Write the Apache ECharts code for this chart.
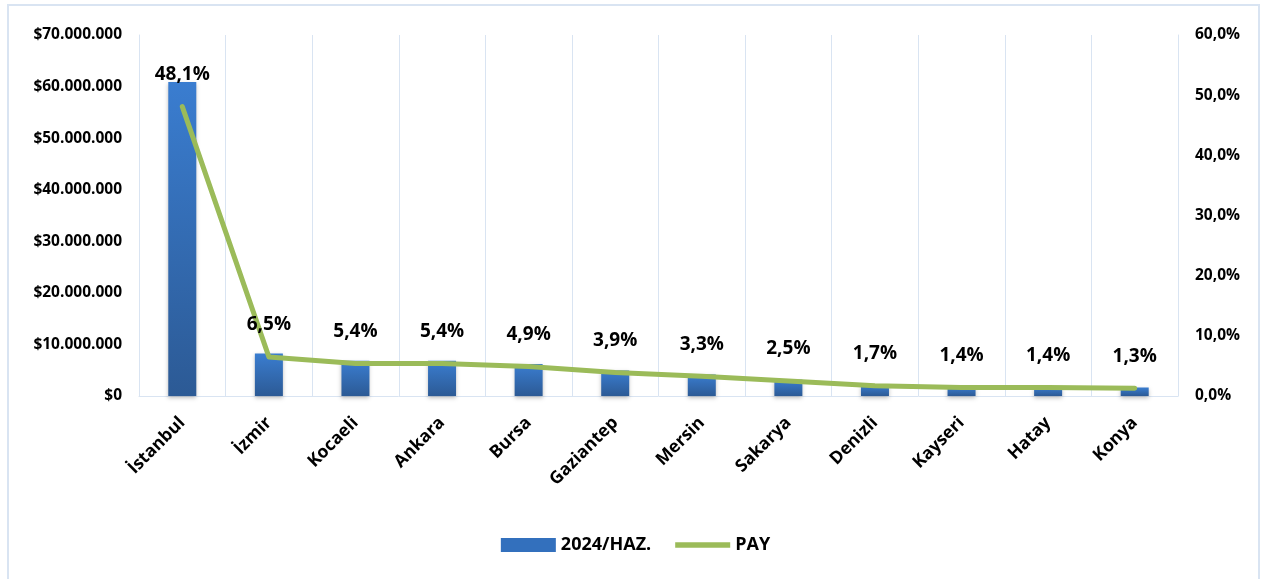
<!DOCTYPE html>
<html>
<head>
<meta charset="utf-8">
<script src="https://cdn.jsdelivr.net/npm/echarts@6/dist/echarts.min.js"></script>
<style>
  html, body { margin: 0; padding: 0; background: #fff; }
  #chart { width: 1271px; height: 579px; }
</style>
</head>
<body>
<div id="chart"></div>
<script>
const cities = ['İstanbul', 'İzmir', 'Kocaeli', 'Ankara', 'Bursa', 'Gaziantep', 'Mersin', 'Sakarya', 'Denizli', 'Kayseri', 'Hatay', 'Konya'];
// 2024/HAZ. values in dollars
const exports2024 = [60900000, 8250000, 6850000, 6850000, 6200000, 4950000, 4180000, 3170000, 2150000, 1780000, 1770000, 1650000];
// share in percent
const share = [48.1, 6.5, 5.4, 5.4, 4.9, 3.9, 3.3, 2.5, 1.7, 1.4, 1.4, 1.3];

const fontFamily = '"Open Sans", "Noto Sans", sans-serif';
const gridColor = '#d9e4f2';

function dotThousands(v) {
  return '$' + String(v).replace(/\B(?=(\d{3})+(?!\d))/g, '.');
}

const chart = echarts.init(document.getElementById('chart'));

chart.setOption({
  animation: false,
  textStyle: { fontFamily: fontFamily },
  graphic: [{
    type: 'rect',
    shape: { x: 8, y: 5, width: 1251, height: 600 },
    style: { fill: 'none', stroke: gridColor, lineWidth: 2 },
    silent: true
  }],
  grid: { left: 139, right: 93, top: 35, bottom: 183 },
  legend: {
    bottom: 20,
    left: 'center',
    itemGap: 24,
    textStyle: { fontSize: 18, fontWeight: 'bold', color: '#000', fontFamily: fontFamily },
    data: [
      { name: '2024/HAZ.', icon: 'rect', itemStyle: { color: '#3370bd' } },
      { name: 'PAY', icon: 'path://M0,0 L60,0 L60,6 L0,6 Z', itemStyle: { color: '#9bbb59' } }
    ],
    itemWidth: 55,
    itemHeight: 14
  },
  xAxis: {
    type: 'category',
    data: cities,
    axisLine: { lineStyle: { color: gridColor } },
    axisTick: { show: false },
    splitLine: { show: true, lineStyle: { color: gridColor } },
    axisLabel: {
      rotate: 45,
      margin: 24,
      interval: 0,
      color: '#000',
      fontSize: 17.5,
      fontWeight: 'bold'
    }
  },
  yAxis: [
    {
      type: 'value',
      min: 0,
      max: 70000000,
      interval: 10000000,
      axisLine: { show: true, lineStyle: { color: gridColor } },
      splitLine: { show: false },
      axisLabel: {
        color: '#000',
        fontSize: 15.5,
        fontWeight: 'bold',
        margin: 17,
        formatter: dotThousands
      }
    },
    {
      type: 'value',
      min: 0,
      max: 60,
      interval: 10,
      axisLine: { show: true, lineStyle: { color: gridColor } },
      splitLine: { show: false },
      axisLabel: {
        color: '#000',
        fontSize: 15.5,
        fontWeight: 'bold',
        margin: 17,
        formatter: v => v.toFixed(1).replace('.', ',') + '%'
      }
    }
  ],
  series: [
    {
      name: '2024/HAZ.',
      type: 'bar',
      data: exports2024,
      barWidth: 28,
      itemStyle: {
        color: new echarts.graphic.LinearGradient(0, 0, 0, 1, [
          { offset: 0, color: '#3a7dd0' },
          { offset: 1, color: '#2c5a95' }
        ]),
        shadowColor: 'rgba(0,0,0,0.25)',
        shadowBlur: 4,
        shadowOffsetY: 2
      }
    },
    {
      name: 'PAY',
      type: 'line',
      yAxisIndex: 1,
      data: share,
      showSymbol: true,
      symbol: 'circle',
      symbolSize: 1,
      lineStyle: { color: '#9bbb59', width: 5, cap: 'round', join: 'round' },
      itemStyle: { color: '#9bbb59' },
      label: {
        show: true,
        position: 'top',
        distance: 22,
        color: '#000',
        fontSize: 19,
        fontWeight: 'bold',
        formatter: p => p.value.toFixed(1).replace('.', ',') + '%'
      }
    }
  ]
});
</script>
</body>
</html>
